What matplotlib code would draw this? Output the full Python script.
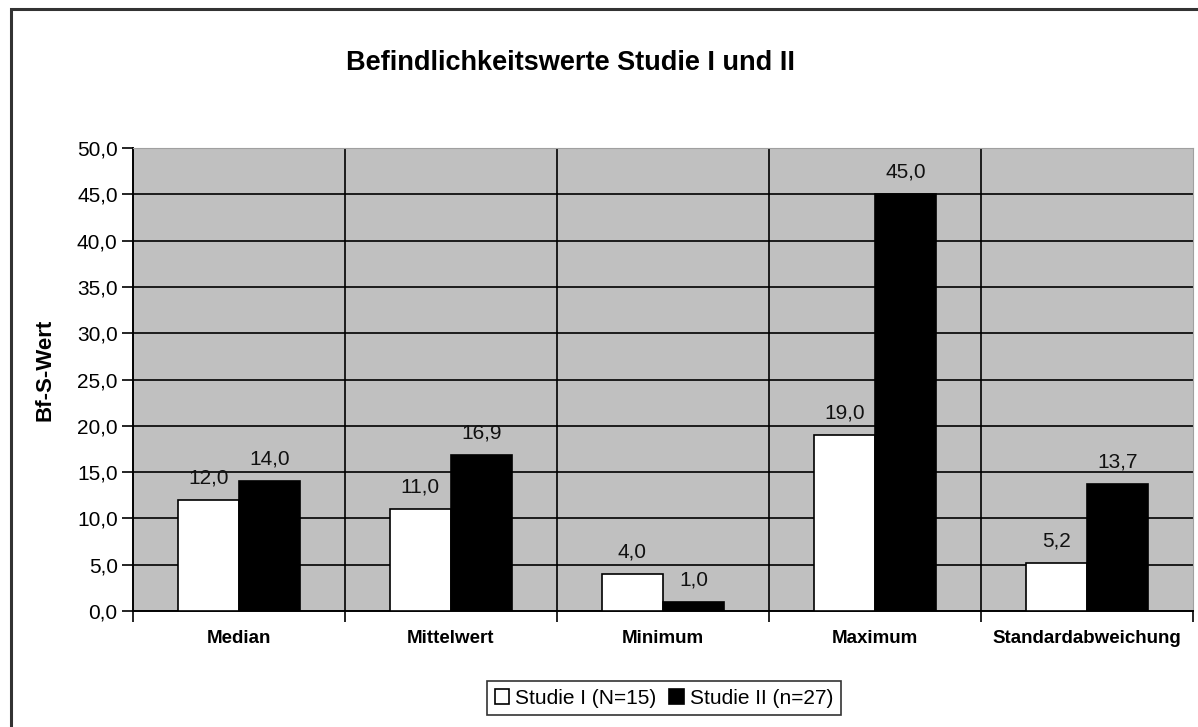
import matplotlib
matplotlib.use("Agg")
import matplotlib.pyplot as plt
from matplotlib.ticker import FuncFormatter, FixedLocator
from matplotlib.patches import Rectangle

# Kennwerte der Befindlichkeitsskala
kategorien = ["Median", "Mittelwert", "Minimum", "Maximum", "Standardabweichung"]
studie1 = [12.0, 11.0, 4.0, 19.0, 5.2]
studie2 = [14.0, 16.9, 1.0, 45.0, 13.7]
label1 = "Studie I (N=15)"
label2 = "Studie II (n=27)"

plt.rcParams['font.family'] = ['Liberation Sans', 'DejaVu Sans']

W, H = 1198, 727
fig = plt.figure(figsize=(W / 100, H / 100), dpi=100)
fig.patch.set_facecolor('white')

# Rahmen um das Diagramm
fig.add_artist(Rectangle((11 / W, -0.05), 1.2, 1 - 9 / H + 0.05,
                         transform=fig.transFigure, fill=False,
                         edgecolor='#333333', linewidth=2.2))

ax = fig.add_axes([133 / W, 1 - 611 / H, (1193 - 133) / W, (611 - 148) / H])
ax.set_facecolor('#C0C0C0')

x = range(len(kategorien))
bw = 0.29
ax.bar([i - bw / 2 for i in x], studie1, width=bw, color='white',
       edgecolor='black', linewidth=1.2, label=label1, zorder=3)
ax.bar([i + bw / 2 for i in x], studie2, width=bw, color='black',
       edgecolor='black', linewidth=1.2, label=label2, zorder=3)

fmt = lambda v: f"{v:.1f}".replace('.', ',')
for i in x:
    for off, v in ((-bw / 2, studie1[i]), (bw / 2, studie2[i])):
        ax.annotate(fmt(v), (i + off, v), xytext=(0, 9), textcoords='offset points',
                    ha='center', va='bottom', fontsize=15, color='#111111', zorder=4)

ax.set_xlim(-0.5, len(kategorien) - 0.5)
ax.set_ylim(0, 50)
ax.yaxis.set_major_locator(FixedLocator([i * 5 for i in range(11)]))
ax.yaxis.set_major_formatter(FuncFormatter(lambda v, p: fmt(v)))

# Trennlinien zwischen den Kategorien
ax.xaxis.set_major_locator(FixedLocator([i + 0.5 for i in range(-1, len(kategorien))]))
ax.xaxis.set_minor_locator(FixedLocator(list(x)))
ax.set_xticklabels([], minor=False)
ax.set_xticklabels(kategorien, minor=True, fontweight='bold', fontsize=13.5)
ax.tick_params(axis='x', which='minor', length=0, pad=14)
ax.tick_params(axis='x', which='major', direction='out', length=8, width=1.2)
ax.tick_params(axis='y', direction='out', length=8, width=1.2, labelsize=15, pad=3)

ax.grid(True, which='major', axis='both', color='black', linewidth=1.2, zorder=1)
ax.set_axisbelow(True)
ax.get_ygridlines()[-1].set_visible(False)
ax.get_ygridlines()[0].set_visible(False)
ax.get_xgridlines()[0].set_visible(False)
ax.get_xgridlines()[-1].set_visible(False)

for s in ('top', 'right'):
    ax.spines[s].set_color('#A0A0A0')
    ax.spines[s].set_linewidth(0.8)
for s in ('left', 'bottom'):
    ax.spines[s].set_color('black')
    ax.spines[s].set_linewidth(1.4)

fig.text(570 / W, 1 - 63 / H, "Befindlichkeitswerte Studie I und II",
         ha='center', va='center', fontsize=19.5, fontweight='bold')
fig.text(45 / W, 1 - 370 / H, "Bf-S-Wert", rotation=90, ha='center', va='center',
         fontsize=16, fontweight='bold')

leg = fig.legend(loc='center', bbox_to_anchor=(664 / W, 1 - 698 / H), ncol=2,
                 fontsize=15, frameon=True, fancybox=False, shadow=False,
                 handlelength=0.7, handleheight=0.7, handletextpad=0.3,
                 columnspacing=0.6, borderpad=0.35, borderaxespad=0)
leg.get_frame().set_edgecolor('black')
leg.get_frame().set_linewidth(1.2)

fig.savefig("out.png", dpi=100)
